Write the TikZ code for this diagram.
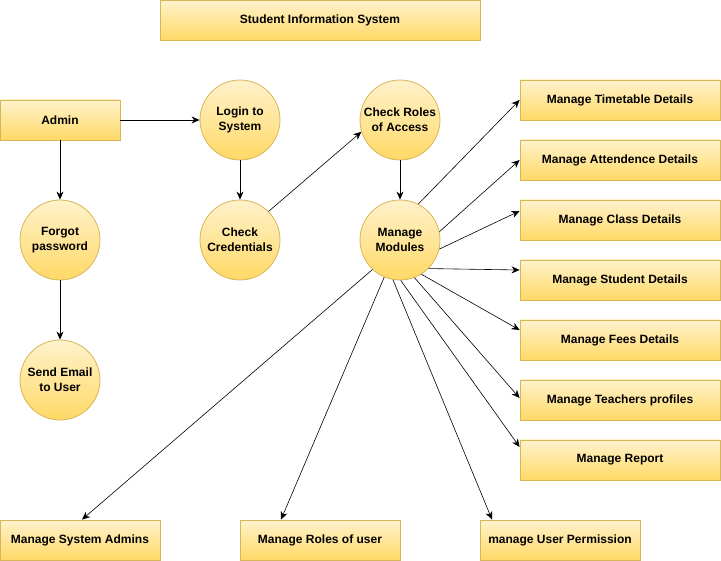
\documentclass[tikz,border=0pt]{standalone}
\usepackage{fontspec}
\setmainfont{Liberation Sans}
\usetikzlibrary{arrows.meta}
\definecolor{fillTop}{HTML}{FFF2CC}
\definecolor{fillBot}{HTML}{FFD966}
\definecolor{strokeY}{HTML}{D6B656}
\begin{document}
\begin{tikzpicture}[x=1pt,y=-1pt,
  every node/.style={font=\fontsize{12}{15}\selectfont\bfseries, align=center, inner sep=0pt},
  box/.style={draw=strokeY, line width=0.8pt, top color=fillTop, bottom color=fillBot, rectangle, minimum height=40pt},
  bubble/.style={draw=strokeY, line width=0.8pt, top color=fillTop, bottom color=fillBot, circle, minimum size=80pt},
  conn/.style={draw=black, line width=0.75pt, -{Stealth[length=8pt,width=7pt,inset=2.5pt]}},
  thin/.style={draw=black, line width=0.6pt, -{Stealth[length=8pt,width=7pt,inset=2.5pt]}}
]
\useasboundingbox (0,0) rectangle (721,561);
\node[box, minimum width=320pt] (title) at (320,20) {Student Information System};
\node[box, minimum width=120pt] (admin) at (60,120) {Admin};
\node[bubble] (login) at (240,120) {Login to\\System};
\node[bubble] (cc) at (240,240) {Check\\Credentials};
\node[bubble] (cr) at (400,120) {Check Roles\\of Access};
\node[bubble] (mm) at (400,240) {Manage\\Modules};
\node[bubble] (fp) at (60,240) {Forgot\\password};
\node[bubble] (se) at (60,380) {Send Email\\to User};
\node[box, minimum width=200pt] (tt) at (620,100) {Manage Timetable Details};
\node[box, minimum width=200pt] (att) at (620,160) {Manage Attendence Details};
\node[box, minimum width=200pt] (cls) at (620,220) {Manage Class Details};
\node[box, minimum width=200pt] (stu) at (620,280) {Manage Student Details};
\node[box, minimum width=200pt] (fee) at (620,340) {Manage Fees Details};
\node[box, minimum width=200pt] (tea) at (620,400) {Manage Teachers profiles};
\node[box, minimum width=200pt] (rep) at (620,460) {Manage Report};
\node[box, minimum width=160pt] (sysad) at (80,540) {Manage System Admins};
\node[box, minimum width=160pt] (rol) at (320,540) {Manage Roles of user};
\node[box, minimum width=160pt] (perm) at (560,540) {manage User Permission};
% connectors
\draw[conn] (admin.east) -- (login.west);
\draw[conn] (admin.south) -- (fp.north);
\draw[conn] (fp.south) -- (se.north);
\draw[conn] (login.south) -- (cc.north);
\draw[thin] (cc.45) -- (cr.-163);
\draw[conn] (cr.south) -- (mm.north);
\draw[thin] (mm.63) -- (tt.west);
\draw[thin] (mm.12) -- (att.west);
\draw[thin] (mm.-13) -- ([yshift=9pt]cls.west);
\draw[thin] (mm.-45) -- ([yshift=10pt]stu.west);
\draw[thin] (mm.-58) -- ([yshift=10pt]fee.west);
\draw[thin] (mm.-69) -- ([yshift=2pt]tea.west);
\draw[thin] (mm.-89) -- ([yshift=13pt]rep.west);
\draw[thin] (mm.-100) -- ([xshift=-68pt]perm.north);
\draw[thin] (mm.-113) -- ([xshift=-39pt]rol.north);
\draw[thin] (mm.-133) -- ([xshift=2pt]sysad.north);
\end{tikzpicture}
\end{document}
